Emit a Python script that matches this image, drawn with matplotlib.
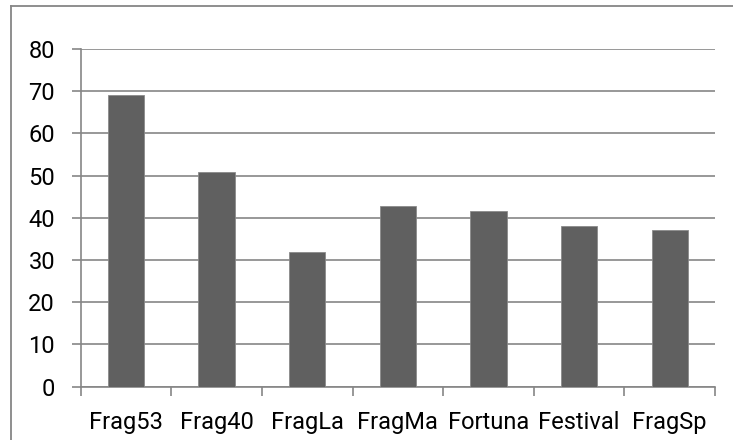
import matplotlib
matplotlib.use("Agg")
import matplotlib.pyplot as plt
from matplotlib.lines import Line2D
import numpy as np

categories = ["Frag53", "Frag40", "FragLa", "FragMa", "Fortuna", "Festival", "FragSp"]
values = [69.0, 50.8, 31.8, 42.7, 41.7, 38.1, 37.1]
yticks = [0, 10, 20, 30, 40, 50, 60, 70, 80]

plt.rcParams['font.family'] = ['Roboto', 'DejaVu Sans']

fig = plt.figure(figsize=(7.33, 4.4), dpi=100)
ax = fig.add_axes([80.7/733, 1-386.7/440, (715-80.7)/733, (386.7-49)/440])

grid_c = "#868686"
bar_c = "#606060"
x = np.arange(len(categories))
ax.bar(x, values, width=0.4, color=bar_c, edgecolor="#8a8a8a", linewidth=0.6, zorder=3)

ax.set_xlim(-0.5, len(categories) - 0.5)
ax.set_ylim(0, 80)
ax.set_yticks(yticks)
ax.set_yticklabels([str(v) for v in yticks])
ax.yaxis.grid(True, color=grid_c, linewidth=1.2)
ax.set_axisbelow(True)

ax.set_xticks(x)
ax.set_xticklabels(categories)
ax.set_xticks(np.arange(len(categories) + 1) - 0.5, minor=True)
ax.tick_params(axis='x', which='major', length=0, pad=17.5, labelsize=17, colors='black')
ax.tick_params(axis='x', which='minor', length=6.5, width=1.2, color=grid_c, direction='out')
ax.tick_params(axis='y', which='major', length=6.5, width=1.2, color=grid_c, pad=12, labelsize=17)

for s in ['top', 'right']:
    ax.spines[s].set_visible(False)
for s in ['left', 'bottom']:
    ax.spines[s].set_color(grid_c)
    ax.spines[s].set_linewidth(1.2)

# outer chart border
fig.add_artist(Line2D([11/733, 1.0], [1-6/440, 1-6/440], transform=fig.transFigure, color=grid_c, linewidth=1.3))
fig.add_artist(Line2D([11/733, 11/733], [0.0, 1-6/440], transform=fig.transFigure, color=grid_c, linewidth=1.3))

fig.savefig("out.png", dpi=100, facecolor="white")
